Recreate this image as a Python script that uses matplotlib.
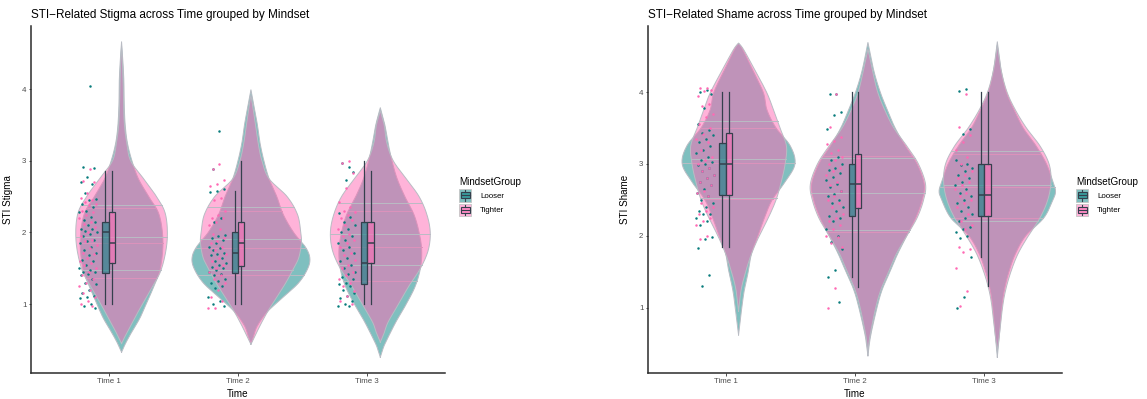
import matplotlib
matplotlib.use('Agg')
import matplotlib.pyplot as plt
import numpy as np
from matplotlib.patches import Patch, Rectangle
from matplotlib.lines import Line2D
from matplotlib.legend_handler import HandlerBase

plt.rcParams['font.family'] = ['Liberation Sans', 'DejaVu Sans']

times = ['Time 1', 'Time 2', 'Time 3']
groups = ['Looser', 'Tighter']
fill_colors = {'Looser': '#008080', 'Tighter': '#ff69b4'}
dot_colors = {'Looser': '#087c7c', 'Tighter': '#ff69b4'}

# boxplot summaries per time: (whisker low, q1, median, q3, whisker high)
stigma_box_looser = [(1.0, 1.43, 2.0, 2.145, 2.86), (1.0, 1.43, 1.72, 2.0, 2.58), (1.0, 1.28, 1.58, 2.145, 3.0)]
stigma_box_tighter = [(1.0, 1.58, 1.86, 2.29, 2.86), (1.0, 1.535, 1.86, 2.145, 3.0), (1.0, 1.58, 1.86, 2.145, 2.86)]
shame_box_looser = [(1.85, 2.57, 3.0, 3.29, 4.0), (1.43, 2.28, 2.72, 3.0, 4.0), (1.71, 2.28, 2.57, 3.0, 4.0)]
shame_box_tighter = [(1.85, 2.57, 3.0, 3.43, 4.0), (1.285, 2.39, 2.72, 3.14, 4.0), (1.3, 2.28, 2.57, 3.0, 4.0)]

# violin density profiles per time: (score, half width)
stigma_violin_looser = [
    [(0.33, 0), (0.45, 0.03), (0.6, 0.075), (0.8, 0.14), (1.0, 0.19), (1.25, 0.25), (1.5, 0.30),
     (1.88, 0.32), (2.25, 0.29), (2.5, 0.21), (2.75, 0.13), (3.0, 0.08), (3.25, 0.045), (3.5, 0.028),
     (3.8, 0.02), (4.1, 0.018), (4.4, 0.01), (4.66, 0)],
    [(0.45, 0), (0.55, 0.02), (0.7, 0.05), (0.9, 0.13), (1.1, 0.25), (1.3, 0.37), (1.5, 0.44),
     (1.65, 0.455), (1.8, 0.42), (2.0, 0.33), (2.25, 0.25), (2.5, 0.2), (2.75, 0.14), (3.0, 0.1),
     (3.25, 0.07), (3.5, 0.05), (3.75, 0.025), (3.99, 0)],
    [(0.26, 0), (0.4, 0.025), (0.5, 0.05), (0.75, 0.12), (1.0, 0.2), (1.25, 0.27), (1.5, 0.31),
     (1.75, 0.32), (2.0, 0.3), (2.25, 0.26), (2.5, 0.19), (2.75, 0.13), (3.0, 0.09), (3.25, 0.06),
     (3.5, 0.035), (3.74, 0)],
]
stigma_violin_tighter = [
    [(0.45, 0), (0.6, 0.04), (0.8, 0.10), (1.0, 0.16), (1.25, 0.24), (1.5, 0.31), (1.88, 0.352),
     (2.25, 0.34), (2.5, 0.27), (2.75, 0.17), (3.0, 0.07), (3.25, 0.04), (3.5, 0.022), (3.8, 0.015),
     (4.1, 0.012), (4.4, 0.006), (4.6, 0)],
    [(0.44, 0), (0.55, 0.03), (0.7, 0.07), (0.9, 0.13), (1.1, 0.2), (1.3, 0.27), (1.5, 0.33),
     (1.65, 0.37), (1.85, 0.39), (2.0, 0.385), (2.25, 0.36), (2.5, 0.28), (2.75, 0.14), (3.0, 0.085),
     (3.25, 0.055), (3.5, 0.035), (3.75, 0.015), (3.92, 0)],
    [(0.47, 0), (0.6, 0.03), (0.75, 0.06), (1.0, 0.14), (1.25, 0.22), (1.5, 0.31), (1.75, 0.37),
     (2.0, 0.386), (2.25, 0.36), (2.5, 0.3), (2.75, 0.2), (3.0, 0.1), (3.25, 0.05), (3.5, 0.03),
     (3.7, 0)],
]
shame_violin_looser = [
    [(0.62, 0), (0.8, 0.012), (1.0, 0.025), (1.25, 0.045), (1.5, 0.075), (1.75, 0.1), (2.0, 0.15),
     (2.25, 0.2), (2.5, 0.26), (2.75, 0.36), (3.0, 0.436), (3.25, 0.40), (3.5, 0.29), (3.75, 0.22),
     (4.0, 0.19), (4.36, 0.095), (4.6, 0.03), (4.68, 0)],
    [(0.33, 0), (0.6, 0.02), (1.0, 0.07), (1.25, 0.11), (1.5, 0.17), (1.75, 0.23), (2.0, 0.3),
     (2.25, 0.37), (2.5, 0.42), (2.72, 0.435), (3.0, 0.38), (3.25, 0.29), (3.5, 0.21), (3.75, 0.15),
     (4.0, 0.095), (4.3, 0.045), (4.69, 0)],
    [(0.31, 0), (0.6, 0.015), (1.0, 0.035), (1.25, 0.055), (1.5, 0.09), (1.75, 0.14), (2.0, 0.22),
     (2.25, 0.36), (2.5, 0.43), (2.62, 0.45), (2.75, 0.43), (3.0, 0.38), (3.25, 0.3), (3.5, 0.2),
     (3.75, 0.13), (4.0, 0.07), (4.3, 0.03), (4.7, 0)],
]
shame_violin_tighter = [
    [(0.95, 0), (1.25, 0.02), (1.5, 0.055), (1.75, 0.1), (2.0, 0.16), (2.25, 0.23), (2.5, 0.29),
     (2.75, 0.33), (3.0, 0.36), (3.25, 0.37), (3.5, 0.32), (3.75, 0.27), (4.0, 0.216), (4.36, 0.11),
     (4.6, 0.036), (4.68, 0)],
    [(0.38, 0), (0.6, 0.015), (1.0, 0.06), (1.25, 0.1), (1.5, 0.16), (1.75, 0.22), (2.0, 0.3),
     (2.25, 0.38), (2.5, 0.43), (2.72, 0.445), (3.0, 0.39), (3.25, 0.3), (3.5, 0.2), (3.75, 0.13),
     (4.0, 0.075), (4.3, 0.035), (4.6, 0)],
    [(0.4, 0), (0.6, 0.015), (1.0, 0.04), (1.25, 0.065), (1.5, 0.105), (1.75, 0.16), (2.0, 0.24),
     (2.25, 0.33), (2.5, 0.39), (2.75, 0.415), (3.0, 0.40), (3.25, 0.33), (3.5, 0.225), (3.75, 0.14),
     (4.0, 0.075), (4.3, 0.03), (4.65, 0)],
]

# individual scores
stigma_pts_looser = [
    [4.05, 2.92, 2.9, 2.78, 2.7, 2.68, 2.55, 2.47, 2.45, 2.4, 2.35, 2.3, 2.28, 2.22, 2.18, 2.15, 2.1,
     2.05, 2.05, 2.02, 2.0, 1.98, 1.95, 1.9, 1.88, 1.85, 1.8, 1.75, 1.72, 1.68, 1.62, 1.6, 1.55, 1.5,
     1.47, 1.45, 1.45, 1.42, 1.4, 1.35, 1.3, 1.28, 1.2, 1.15, 1.12, 1.1, 1.08, 1.0, 0.98, 0.95],
    [3.42, 2.88, 2.6, 2.58, 2.57, 2.2, 2.15, 1.97, 1.95, 1.92, 1.9, 1.85, 1.8, 1.78, 1.75, 1.72, 1.7,
     1.68, 1.65, 1.6, 1.58, 1.55, 1.52, 1.5, 1.48, 1.45, 1.42, 1.4, 1.35, 1.32, 1.3, 1.25, 1.22, 1.1,
     1.05, 1.0, 0.98],
    [2.92, 2.97, 2.85, 2.73, 2.27, 2.22, 2.15, 2.1, 2.05, 2.0, 1.95, 1.9, 1.85, 1.8, 1.75, 1.72, 1.65,
     1.6, 1.55, 1.5, 1.45, 1.42, 1.38, 1.35, 1.3, 1.28, 1.25, 1.2, 1.15, 1.12, 1.08, 1.05, 1.0, 0.98,
     0.97],
]
stigma_pts_tighter = [
    [2.88, 2.72, 2.7, 2.55, 2.48, 2.45, 2.42, 2.4, 2.38, 2.3, 2.28, 2.25, 2.2, 2.15, 2.12, 2.08, 2.0,
     1.95, 1.9, 1.88, 1.82, 1.78, 1.72, 1.7, 1.65, 1.6, 1.58, 1.55, 1.5, 1.45, 1.4, 1.35, 1.3, 1.25,
     1.2, 1.15, 1.1, 1.05, 1.0, 0.97],
    [2.95, 2.88, 2.73, 2.68, 2.65, 2.48, 2.45, 2.3, 2.25, 2.2, 2.2, 2.15, 2.1, 2.05, 1.98, 1.92, 1.88,
     1.85, 1.8, 1.75, 1.7, 1.65, 1.6, 1.55, 1.5, 1.45, 1.4, 1.35, 1.3, 1.2, 1.1, 1.05, 0.95, 0.95],
    [3.0, 2.97, 2.83, 2.62, 2.42, 2.35, 2.3, 2.28, 2.25, 2.2, 2.18, 2.1, 2.05, 1.98, 1.95, 1.9, 1.85,
     1.8, 1.72, 1.68, 1.62, 1.55, 1.5, 1.45, 1.4, 1.35, 1.3, 1.25, 1.18, 1.12, 1.05, 1.0],
]
shame_pts_looser = [
    [4.03, 4.0, 3.98, 3.78, 3.55, 3.47, 3.43, 3.4, 3.35, 3.3, 3.25, 3.2, 3.15, 3.1, 3.05, 3.02, 3.0,
     2.98, 2.95, 2.9, 2.85, 2.8, 2.75, 2.7, 2.65, 2.6, 2.55, 2.5, 2.45, 2.4, 2.35, 2.3, 2.3, 2.25, 2.2,
     2.15, 1.98, 1.95, 1.83, 1.45, 1.3],
    [3.97, 3.97, 3.72, 3.68, 3.48, 3.1, 3.05, 3.0, 2.95, 2.92, 2.88, 2.82, 2.78, 2.72, 2.68, 2.62,
     2.58, 2.55, 2.5, 2.45, 2.4, 2.35, 2.28, 2.25, 2.2, 2.1, 2.0, 1.92, 1.82, 1.53, 1.43, 1.08],
    [4.04, 4.02, 3.48, 3.42, 3.05, 3.0, 2.98, 2.95, 2.9, 2.85, 2.8, 2.75, 2.7, 2.65, 2.6, 2.55, 2.5,
     2.45, 2.4, 2.35, 2.3, 2.25, 2.2, 2.12, 2.1, 2.05, 2.0, 1.97, 1.7, 1.15, 1.0],
]
shame_pts_tighter = [
    [4.05, 4.05, 4.03, 4.02, 3.95, 3.83, 3.8, 3.7, 3.65, 3.55, 3.5, 3.42, 3.35, 3.3, 3.2, 3.1, 3.05,
     3.0, 2.95, 2.9, 2.85, 2.8, 2.75, 2.7, 2.62, 2.6, 2.55, 2.45, 2.4, 2.35, 2.3, 2.25, 2.2, 2.15, 2.0,
     1.95],
    [3.97, 3.52, 3.38, 3.32, 3.28, 3.2, 3.15, 3.1, 3.05, 3.0, 2.95, 2.9, 2.85, 2.75, 2.7, 2.62, 2.55,
     2.5, 2.45, 2.4, 2.3, 2.25, 2.2, 2.15, 2.1, 2.0, 1.98, 1.9, 1.85, 1.27, 0.99],
    [3.97, 3.52, 3.4, 3.3, 3.2, 3.1, 3.0, 2.9, 2.85, 2.8, 2.75, 2.7, 2.65, 2.6, 2.55, 2.5, 2.45, 2.4,
     2.3, 2.2, 2.15, 2.1, 1.85, 1.82, 1.78, 1.55, 1.23, 1.02],
]

VIOLIN_SHIFT = 0.1
BOX_SHIFT = {'Looser': -0.025, 'Tighter': 0.025}
BOX_WIDTH = 0.05
DOT_SHIFT = -0.16
DOT_SPREAD = 0.07
OUTLINE = '#b9bcc4'
BOX_EDGE = '#34404d'


def smooth_profile(profile, n=14):
    # Catmull-Rom through the profile points for a rounded outline
    p = np.asarray(profile, dtype=float)
    p = np.vstack([p[0], p, p[-1]])
    t = np.linspace(0, 1, n, endpoint=False)[:, None]
    segs = []
    for i in range(1, len(p) - 2):
        p0, p1, p2, p3 = p[i - 1], p[i], p[i + 1], p[i + 2]
        segs.append(0.5 * (2 * p1 + (p2 - p0) * t + (2 * p0 - 5 * p1 + 4 * p2 - p3) * t ** 2
                           + (3 * p1 - p0 - 3 * p2 + p3) * t ** 3))
    segs.append(p[-2][None])
    out = np.vstack(segs)
    return out[:, 0], np.clip(out[:, 1], 0, None)


def quartile_lines(y, w):
    area = np.concatenate([[0], np.cumsum(0.5 * (w[1:] + w[:-1]) * np.diff(y))])
    area /= area[-1]
    qy = np.interp([0.25, 0.5, 0.75], area, y)
    return qy, np.interp(qy, y, w)


def draw_violin(ax, x, profile, color):
    y, w = smooth_profile(profile)
    ax.fill_betweenx(y, x - w, x + w, facecolor=color, alpha=0.5, edgecolor='none', zorder=2)
    ax.plot(np.concatenate([x - w, (x + w)[::-1]]), np.concatenate([y, y[::-1]]),
            color=OUTLINE, lw=0.7, zorder=2)
    qy, qw = quartile_lines(y, w)
    for yy, ww in zip(qy, qw):
        ax.plot([x - ww, x + ww], [yy, yy], color=OUTLINE, lw=0.7, zorder=2)


def jitter_offsets(n):
    k = (np.arange(n) + 1) * 0.6180339887
    return DOT_SHIFT + DOT_SPREAD * (2 * (k % 1) - 1)


class BoxKey(HandlerBase):
    def create_artists(self, legend, orig_handle, xdescent, ydescent, width, height, fontsize, trans):
        c = orig_handle.get_facecolor()[:3]
        x0, y0 = -xdescent, -ydescent
        bg = Rectangle((x0, y0), width, height, facecolor=(*c, 0.5), edgecolor='#c4c4c4',
                       lw=0.6, transform=trans)
        bx = Rectangle((x0 + 0.1 * width, y0 + 0.28 * height), 0.8 * width, 0.44 * height,
                       facecolor=(*c, 0.55), edgecolor=BOX_EDGE, lw=0.8, transform=trans)
        xm = x0 + width / 2
        med = Line2D([x0 + 0.1 * width, x0 + 0.9 * width], [y0 + height / 2] * 2,
                     color=BOX_EDGE, lw=0.8, transform=trans)
        wlo = Line2D([xm, xm], [y0 + 0.08 * height, y0 + 0.28 * height], color=BOX_EDGE, lw=0.8,
                     transform=trans)
        whi = Line2D([xm, xm], [y0 + 0.72 * height, y0 + 0.92 * height], color=BOX_EDGE, lw=0.8,
                     transform=trans)
        return [bg, bx, med, wlo, whi]


def draw_panel(ax, title, ylabel, violins, boxes, points):
    xs = np.arange(1, len(times) + 1)
    for i, x in enumerate(xs):
        for g in groups:
            draw_violin(ax, x + VIOLIN_SHIFT, violins[g][i], fill_colors[g])
    for g in groups:
        stats = [dict(whislo=b[0], q1=b[1], med=b[2], q3=b[3], whishi=b[4], fliers=[])
                 for b in boxes[g]]
        art = ax.bxp(stats, positions=xs + BOX_SHIFT[g], widths=BOX_WIDTH, patch_artist=True,
                     showcaps=False, manage_ticks=False, zorder=3,
                     boxprops=dict(edgecolor=BOX_EDGE, lw=0.9),
                     medianprops=dict(color=BOX_EDGE, lw=1.1),
                     whiskerprops=dict(color=BOX_EDGE, lw=0.9))
        for patch in art['boxes']:
            patch.set_facecolor((*matplotlib.colors.to_rgb(fill_colors[g]), 0.55))
    for g in groups:
        for i, x in enumerate(xs):
            vals = np.asarray(points[g][i])
            ax.scatter(x + jitter_offsets(len(vals)), vals, s=3.2, color=dot_colors[g],
                       linewidths=0, zorder=4)

    ys = [p[0] for g in groups for v in violins[g] for p in (v[0], v[-1])]
    lo, hi = min(ys), max(ys)
    pad = 0.05 * (hi - lo)
    ax.set_ylim(lo - pad, hi + pad)
    ax.set_xlim(0.4, len(times) + 0.6)
    ax.set_xticks(xs)
    ax.set_xticklabels(times)
    ax.set_yticks([1, 2, 3, 4])
    ax.spines[['top', 'right']].set_visible(False)
    for s in ('left', 'bottom'):
        ax.spines[s].set_color('#2b2b2b')
        ax.spines[s].set_linewidth(1.1)
    ax.tick_params(labelsize=5.65, labelcolor='#4d4d4d', color='#333333', length=1.8,
                   width=0.6, pad=1.5)
    ax.set_xlabel('Time', fontsize=7.1)
    ax.set_ylabel(ylabel, fontsize=7.1)
    ax.xaxis.set_label_coords(0.5, -0.045)
    ax.yaxis.set_label_coords(-0.043, 0.5)
    ax.text(0.0, 1.032, title, transform=ax.transAxes, fontsize=8.5, ha='left', va='center')

    handles = [Patch(facecolor=fill_colors[g]) for g in groups]
    leg = ax.legend(handles, groups, title='MindsetGroup', loc='upper left',
                    bbox_to_anchor=(1.035, 0.565), frameon=False, fontsize=5.65,
                    title_fontsize=7.1, handlelength=1.45, handleheight=2.1,
                    handletextpad=1.2, labelspacing=0.25, borderpad=0, borderaxespad=0,
                    handler_map={Patch: BoxKey()})
    leg._legend_box.align = 'left'


fig = plt.figure(figsize=(11.47, 3.99), dpi=100)
ax1 = fig.add_axes([31 / 1147, 26 / 399, 414 / 1147, 347 / 399])
ax2 = fig.add_axes([648 / 1147, 26 / 399, 414 / 1147, 347 / 399])

draw_panel(ax1, 'STI\u2212Related Stigma across Time grouped by Mindset', 'STI Stigma',
           {'Looser': stigma_violin_looser, 'Tighter': stigma_violin_tighter},
           {'Looser': stigma_box_looser, 'Tighter': stigma_box_tighter},
           {'Looser': stigma_pts_looser, 'Tighter': stigma_pts_tighter})
draw_panel(ax2, 'STI\u2212Related Shame across Time grouped by Mindset', 'STI Shame',
           {'Looser': shame_violin_looser, 'Tighter': shame_violin_tighter},
           {'Looser': shame_box_looser, 'Tighter': shame_box_tighter},
           {'Looser': shame_pts_looser, 'Tighter': shame_pts_tighter})

fig.savefig('out.png', dpi=100)
